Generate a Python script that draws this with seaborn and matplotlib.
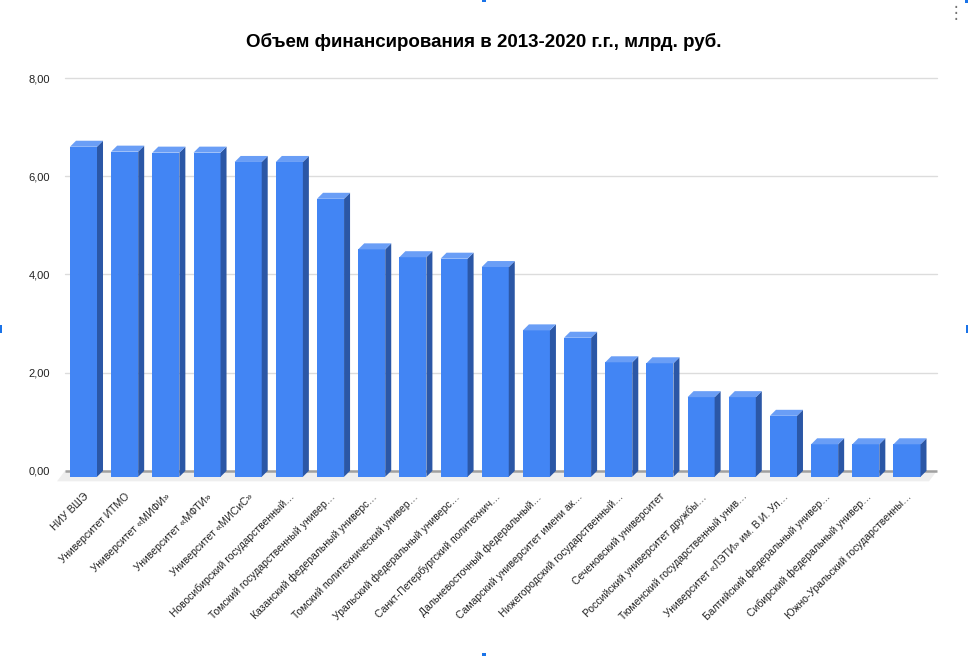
import matplotlib
matplotlib.use("Agg")
import matplotlib.pyplot as plt
import seaborn as sns
import pandas as pd
from matplotlib.patches import Polygon, Rectangle

universities = [
    "НИУ ВШЭ",
    "Университет ИТМО",
    "Университет «МИФИ»",
    "Университет «МФТИ»",
    "Университет «МИСиС»",
    "Новосибирский государственный…",
    "Томский государственный универ…",
    "Казанский федеральный универс…",
    "Томский политехнический универ…",
    "Уральский федеральный универс…",
    "Санкт-Петербургский политехнич…",
    "Дальневосточный федеральный…",
    "Самарский университет имени ак…",
    "Нижегородский государственный…",
    "Сеченовский университет",
    "Российский университет дружбы…",
    "Тюменский государственный унив…",
    "Университет «ЛЭТИ» им. В.И. Ул…",
    "Балтийский федеральный универ…",
    "Сибирский федеральный универ…",
    "Южно-Уральский государственны…",
]
funding = [6.60, 6.50, 6.48, 6.48, 6.29, 6.29, 5.54, 4.51, 4.35, 4.32, 4.15,
           2.86, 2.71, 2.21, 2.19, 1.50, 1.50, 1.12, 0.54, 0.54, 0.54]
y_ticks = [0, 2, 4, 6, 8]
y_tick_labels = ["0,00", "2,00", "4,00", "6,00", "8,00"]
title = "Объем финансирования в 2013-2020 г.г., млрд. руб."

df = pd.DataFrame({"university": universities, "funding": funding})

W, H, DPI = 968, 656, 100
sns.set_theme(style="white")
plt.rcParams["font.family"] = ["Liberation Sans", "DejaVu Sans"]

fig = plt.figure(figsize=(W / DPI, H / DPI), dpi=DPI)
px_unit = 49.1  # pixels per y unit
ax_left, ax_right = 65, 937
y_top_px = 78
ymin, ymax = -0.25, 8.0
ax_bottom_px = y_top_px + (ymax - ymin) * px_unit
ax = fig.add_axes([ax_left / W, 1 - ax_bottom_px / H,
                   (ax_right - ax_left) / W, (ax_bottom_px - y_top_px) / H])

FRONT = "#4285f4"
SIDE = "#2b57a6"
TOP = "#6a9ef6"

sns.barplot(data=df, x="university", y="funding", color=FRONT,
            width=0.656, saturation=1, ax=ax, zorder=3)

# x scale
x_per_px = 20 / (907 - 83.5)
xlim_left = -(83.5 - ax_left) * x_per_px
xlim_right = 20 + (ax_right - 907) * x_per_px
ax.set_xlim(xlim_left, xlim_right)
ax.set_ylim(ymin, ymax)

ddx = 6 * x_per_px
ddy = 6 / px_unit

# floor
fdx = 8 * x_per_px
fdy = 10.5 / px_unit
floor = Polygon([(xlim_left, 0), (xlim_right, 0),
                 (xlim_right - fdx, -fdy), (xlim_left - fdx, -fdy)],
                closed=True, facecolor="#eeeeee", edgecolor="none",
                zorder=1, clip_on=False)
ax.add_patch(floor)
ax.plot([xlim_left, xlim_right], [0, 0], color="#a0a0a0", lw=1.8,
        zorder=2, solid_capstyle="butt", clip_on=False)

# 3D faces derived from seaborn bars
for p in list(ax.patches):
    if not isinstance(p, Rectangle) or p is floor:
        continue
    x0 = p.get_x()
    w = p.get_width()
    v = p.get_height()
    p.set_y(-ddy)
    p.set_height(v + ddy)
    p.set_edgecolor("none")
    p.set_clip_on(False)
    x1 = x0 + w
    side = Polygon([(x1, -ddy), (x1 + ddx, 0), (x1 + ddx, v + ddy), (x1, v)],
                   closed=True, facecolor=SIDE, edgecolor="none", zorder=3,
                   clip_on=False)
    top = Polygon([(x0, v), (x0 + ddx, v + ddy), (x1 + ddx, v + ddy), (x1, v)],
                  closed=True, facecolor=TOP, edgecolor="none", zorder=3,
                  clip_on=False)
    ax.add_patch(side)
    ax.add_patch(top)

# grid
for t in y_ticks[1:]:
    ax.axhline(t, color="#dcdcdc", lw=1, zorder=0, clip_on=False)

ax.set_yticks(y_ticks)
ax.set_yticklabels(y_tick_labels, fontsize=8, color="#222222")
ax.tick_params(axis="y", length=0, pad=11)
ax.set_xticks(range(len(universities)))
ax.set_xticklabels(universities, rotation=45, ha="right",
                   rotation_mode="anchor", fontsize=7.5, color="#222222")
ax.tick_params(axis="x", length=0, pad=6)
ax.set_xlabel("")
ax.set_ylabel("")
for s in ax.spines.values():
    s.set_visible(False)

fig.text(484 / W, 1 - 42 / H, title, ha="center", va="center",
         fontsize=13.5, fontweight="bold", color="#000000")

# UI decorations (menu dots and selection handles)
fig.text(956 / W, 1 - 13 / H, "⋮", ha="center", va="center",
         fontsize=12, color="#757575", family=["DejaVu Sans"])
handle = "#1a73e8"
for (hx, hy, hw, hh) in [(482, 0, 4, 2), (0, 325, 2, 8), (966, 325, 2, 8),
                         (482, 653, 4, 3), (965, 0, 3, 3)]:
    fig.patches.append(Rectangle((hx / W, 1 - (hy + hh) / H), hw / W, hh / H,
                                 transform=fig.transFigure, facecolor=handle,
                                 edgecolor="none"))

fig.savefig("out.png", dpi=DPI)
